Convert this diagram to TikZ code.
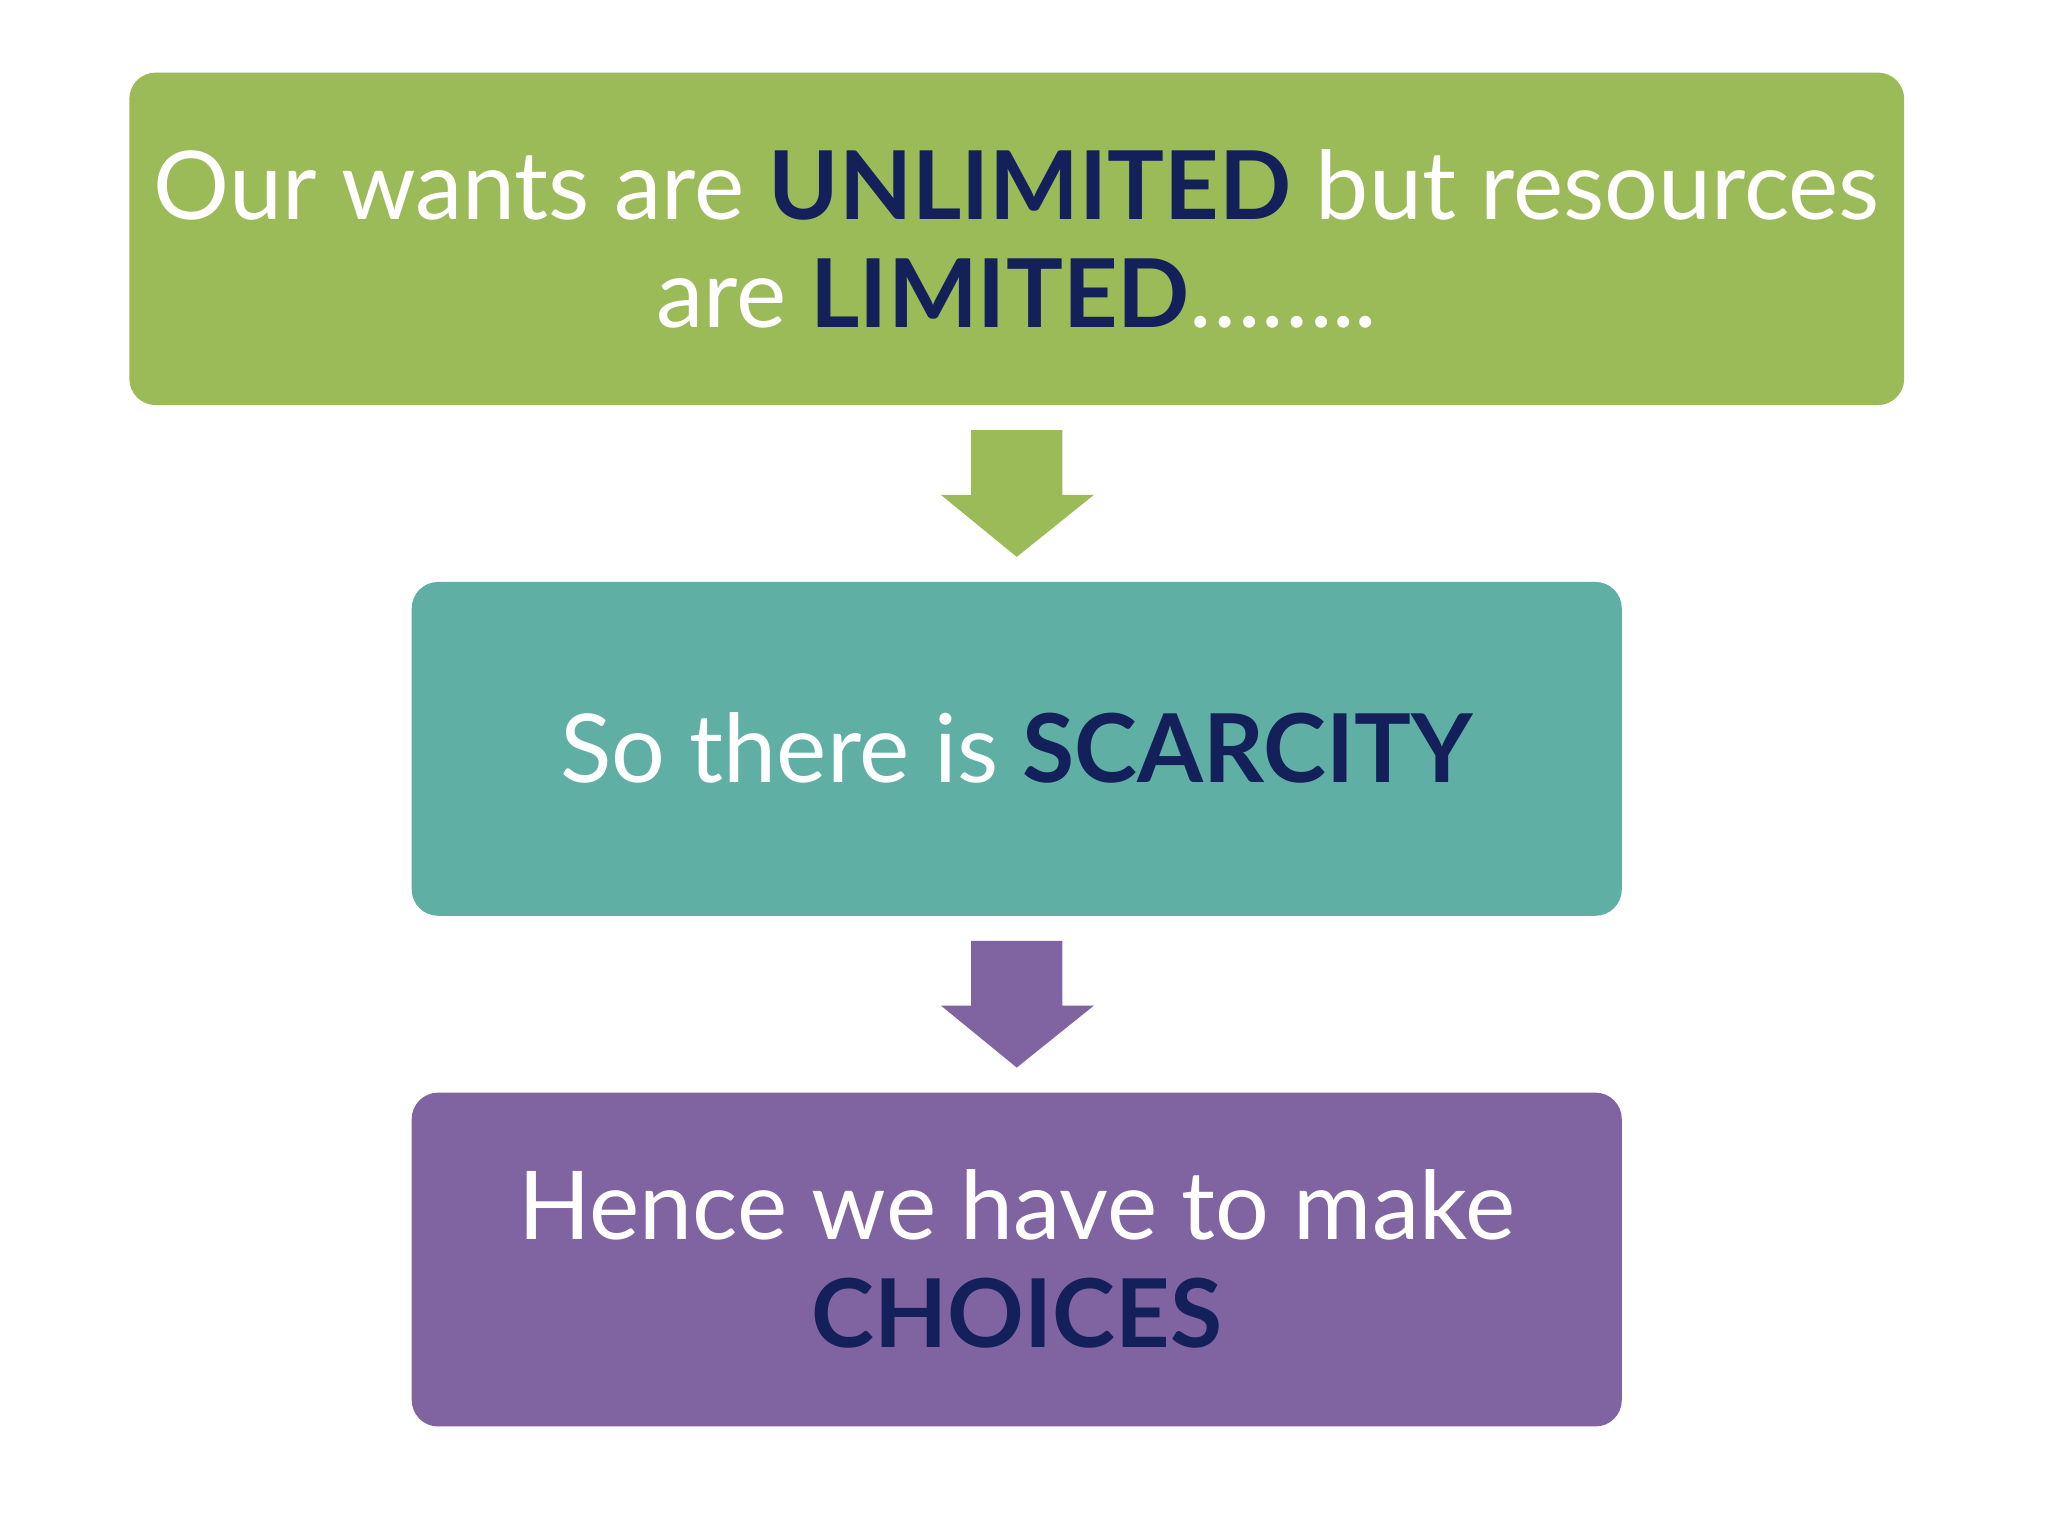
\documentclass[tikz,border=0pt]{standalone}
\usepackage{fontspec}
\setmainfont{Lato}
\definecolor{cgreen}{HTML}{9BBB59}
\definecolor{cteal}{HTML}{5FAFA5}
\definecolor{cpurple}{HTML}{8064A2}
\definecolor{cnavy}{HTML}{13205A}
\newcommand{\hl}[1]{\textbf{\textcolor{cnavy}{#1}}}
\begin{document}
\begin{tikzpicture}[x=1pt,y=-1pt,
  boxst/.style={rounded corners=20pt},
  txt/.style={text=white,font=\fontsize{72}{82}\selectfont,align=center}]
\useasboundingbox (0,0) rectangle (1552,1164);
\fill[white] (0,0) rectangle (1552,1164);
\fill[cgreen,boxst] (98,55) rectangle (1443,307);
\coordinate (b1) at (770.5,181);
\fill[cteal,boxst] (312,441) rectangle (1229,694);
\coordinate (b2) at (770.5,567);
\fill[cpurple,boxst] (312,828) rectangle (1229,1081);
\coordinate (b3) at (770.5,954);
\fill[cgreen] (736,326) -- (805,326) -- (805,375) -- (829,375) -- (770.5,422) -- (713,375) -- (736,375) -- cycle;
\fill[cpurple] (736,713) -- (805,713) -- (805,762) -- (829,762) -- (770.5,809) -- (713,762) -- (736,762) -- cycle;
\node[txt] (t1) at (b1) {Our wants are \hl{UNLIMITED} but resources\\are \hl{LIMITED}\dots\dots..};
\node[txt] (t2) at (b2) {So there is \hl{SCARCITY}};
\node[txt] (t3) at (b3) {Hence we have to make\\\hl{CHOICES}};
\end{tikzpicture}
\end{document}
